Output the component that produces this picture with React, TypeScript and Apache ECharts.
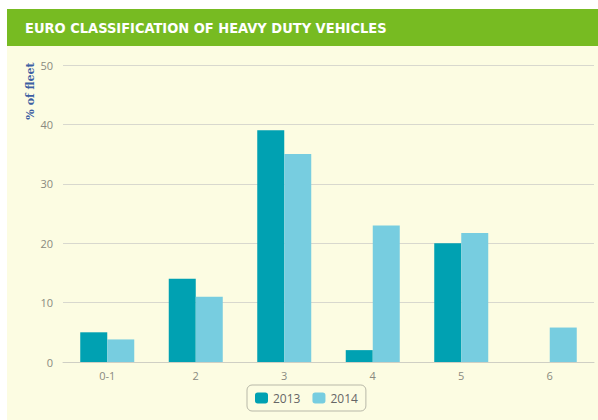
import React, { useEffect, useRef } from "react";
import * as echarts from "echarts";

const categories = ["0-1", "2", "3", "4", "5", "6"];
const series2013 = [5, 14, 39, 2, 20, null];
const series2014 = [3.8, 11, 35, 23, 21.7, 5.8];
const yTicks = { min: 0, max: 50, interval: 10 };
const title = "EURO CLASSIFICATION OF HEAVY DUTY VEHICLES";
const yName = "% of fleet";

export default function App() {
  const ref = useRef<HTMLDivElement>(null);
  useEffect(() => {
    const chart = echarts.init(ref.current!, null, { renderer: "svg" });
    chart.setOption({
      animation: false,
      backgroundColor: "#ffffff",
      graphic: [
        { type: "rect", z: -10, shape: { x: 7, y: 46, width: 591, height: 374 }, style: { fill: "#fcfce2" } },
        { type: "rect", z: -9, shape: { x: 7, y: 9, width: 591, height: 37 }, style: { fill: "#77bb22" } },
        {
          type: "text", x: 25, y: 28,
          style: { text: title, fill: "#ffffff", font: "bold 14.5px 'DejaVu Sans Condensed', 'DejaVu Sans', sans-serif", verticalAlign: "middle", align: "left" },
        },
        {
          type: "text", x: 30, y: 91, rotation: Math.PI / 2,
          style: { text: yName, fill: "#3d5fa3", font: "bold 11px 'DejaVu Serif', serif", align: "center", verticalAlign: "middle" },
        },
      ],
      grid: { left: 63, right: 4, top: 65, bottom: 58 },
      legend: {
        data: ["2013", "2014"],
        left: 247, top: 385,
        itemWidth: 13, itemHeight: 11, itemGap: 12,
        borderColor: "#b8b8a8", borderWidth: 1, borderRadius: 5,
        padding: [7, 8, 7, 8],
        textStyle: { color: "#666", fontSize: 12, fontFamily: "'Open Sans', sans-serif" },
      },
      xAxis: {
        type: "category",
        data: categories,
        axisLine: { lineStyle: { color: "#cfcfc4" } },
        axisTick: { show: false },
        axisLabel: { color: "#8a8a80", fontSize: 11, margin: 8, fontFamily: "'Open Sans', sans-serif" },
      },
      yAxis: {
        type: "value",
        min: yTicks.min, max: yTicks.max, interval: yTicks.interval,
        axisLine: { show: false },
        axisTick: { show: false },
        splitLine: { lineStyle: { color: "#d8d8ce" } },
        axisLabel: { color: "#8a8a80", fontSize: 11, margin: 10, fontFamily: "'Open Sans', sans-serif" },
      },
      series: [
        { name: "2013", type: "bar", data: series2013, barWidth: 27, barGap: "0%", itemStyle: { color: "#00a1b2" } },
        { name: "2014", type: "bar", data: series2014, barWidth: 27, barGap: "0%", itemStyle: { color: "#77cde0" } },
      ],
    });
    return () => chart.dispose();
  }, []);
  return <div ref={ref} style={{ position: "absolute", left: 0, top: 0, width: 598, height: 420 }} />;
}
